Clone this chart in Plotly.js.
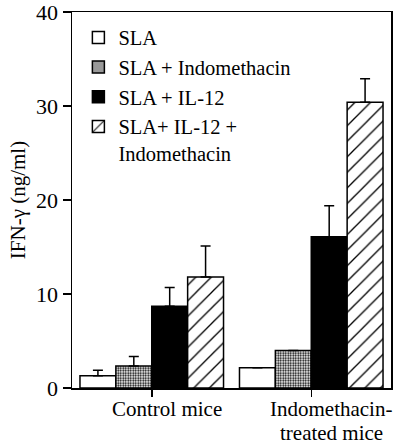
<!DOCTYPE html>
<html>
<head>
<meta charset="utf-8">
<script src="https://cdn.plot.ly/plotly-3.0.1.min.js"></script>
<style>html,body{margin:0;padding:0;background:#fff;}#chart{width:400px;height:445px;}</style>
</head>
<body>
<div id="chart"></div>
<script>
// ---- data ----
const groups = ["Control mice", "Indomethacin-treated mice"];
const groupLabelLines = [["Control mice"], ["Indomethacin-", "treated mice"]];
const seriesNames = ["SLA", "SLA + Indomethacin", "SLA + IL-12", "SLA+ IL-12 +<br>Indomethacin"];
const slaVals = [1.3, 2.15];
const slaErr = [0.6, 0];
const slaIndoVals = [2.35, 4.0];
const slaIndoErr = [1.0, 0];
const slaIl12Vals = [8.7, 16.1];
const slaIl12Err = [2.0, 3.3];
const slaIl12IndoVals = [11.8, 30.4];
const slaIl12IndoErr = [3.3, 2.5];
const yTicks = [0, 10, 20, 30, 40];

// ---- styles ----
const FONT = '"Liberation Serif", "Times New Roman", serif';
const patterns = [
  {shape: "", bgcolor: "#ffffff"},
  {shape: ".", fgcolor: "#000000", bgcolor: "#ffffff", size: 2.5, solidity: 0.45},
  {shape: "", bgcolor: "#000000"},
  {shape: "/", fgcolor: "#000000", bgcolor: "#ffffff", size: 11, solidity: 0.12}
];
const fills = ["#ffffff", "#ffffff", "#000000", "#ffffff"];
const values = [slaVals, slaIndoVals, slaIl12Vals, slaIl12IndoVals];
const errs = [slaErr, slaIndoErr, slaIl12Err, slaIl12IndoErr];

const traces = seriesNames.map((name, i) => ({
  type: "bar",
  name: name,
  x: groups,
  y: values[i],
  marker: {
    color: fills[i],
    line: {color: "#000000", width: 1.5},
    pattern: patterns[i]
  },
  error_y: {
    type: "data",
    symmetric: false,
    array: errs[i],
    arrayminus: errs[i].map(() => 0),
    color: "#000000",
    thickness: 1.5,
    width: 5
  }
}));

// category labels below the axis (one text per line)
const labelXShift = [15, 20];
const annotations = [];
groupLabelLines.forEach((lines, gi) => {
  lines.forEach((line, li) => {
    annotations.push({
      xref: "x", yref: "paper",
      x: groups[gi], y: 0,
      yanchor: "middle",
      xshift: labelXShift[gi],
      yshift: -21 - li * 24,
      text: line,
      showarrow: false,
      borderpad: 0,
      font: {family: FONT, size: 21, color: "#000000"}
    });
  });
});

const layout = {
  width: 400,
  height: 445,
  margin: {l: 72, r: 9, t: 12, b: 57},
  paper_bgcolor: "#ffffff",
  plot_bgcolor: "#ffffff",
  font: {family: FONT, size: 22, color: "#000000"},
  barmode: "group",
  bargap: 0.1,
  bargroupgap: 0,
  showlegend: true,
  legend: {
    x: 0.02, y: 0.985, xanchor: "left", yanchor: "top",
    bgcolor: "rgba(0,0,0,0)",
    font: {family: FONT, size: 20.5, color: "#000000"},
    valign: "top",
    tracegroupgap: 0,
    itemclick: false
  },
  annotations: annotations,
  xaxis: {
    type: "category",
    range: [-0.5, 1.5],
    tickmode: "array",
    tickvals: groups,
    showticklabels: false,
    ticks: "outside",
    ticklen: 7,
    tickwidth: 1.5,
    tickcolor: "#000000",
    showline: true,
    linecolor: "#000000",
    linewidth: 1.5,
    mirror: true,
    showgrid: false,
    zeroline: false
  },
  yaxis: {
    range: [0, 40],
    tickmode: "array",
    tickvals: yTicks,
    ticktext: yTicks.map(String),
    ticks: "outside",
    ticklen: 8,
    tickwidth: 1.5,
    tickcolor: "#000000",
    ticklabeloverflow: "allow",
    showline: true,
    linecolor: "#000000",
    linewidth: 1.5,
    mirror: true,
    showgrid: false,
    zeroline: false,
    tickfont: {family: FONT, size: 22, color: "#000000"},
    title: {text: "IFN-γ (ng/ml)", font: {family: FONT, size: 21, color: "#000000"}, standoff: 4}
  }
};

Plotly.newPlot("chart", traces, layout, {displayModeBar: false, staticPlot: true});
</script>
</body>
</html>
